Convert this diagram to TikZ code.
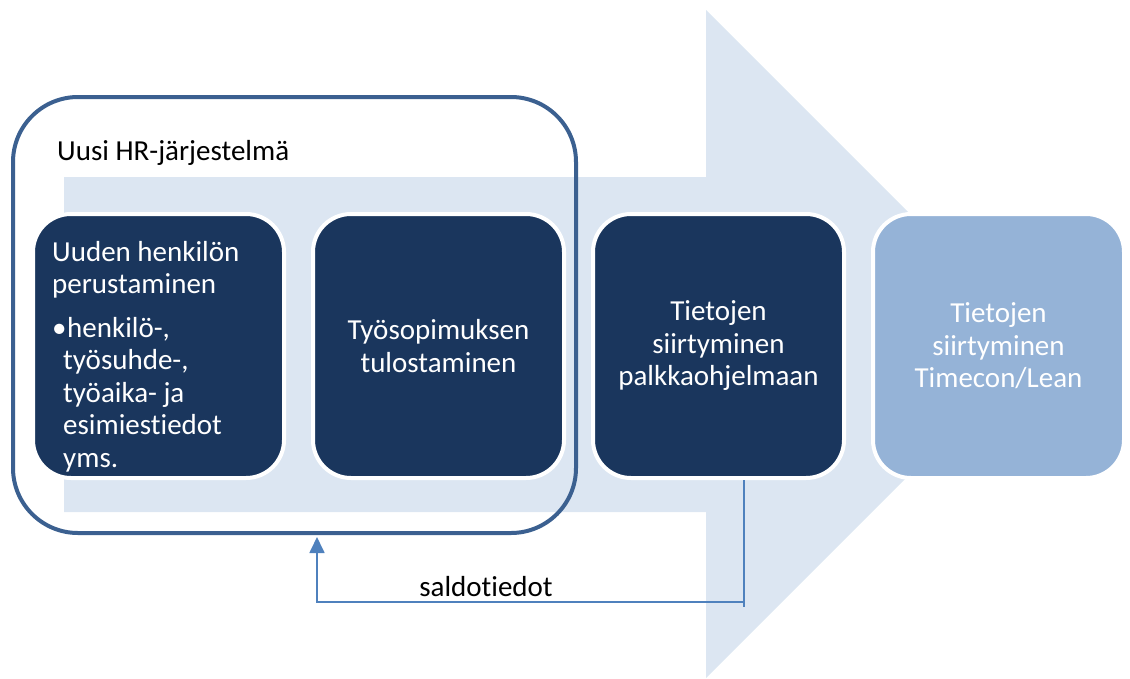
\documentclass[tikz,border=0pt]{standalone}
\usepackage{fontspec}
\setmainfont{Carlito}[Ligatures=NoCommon]
\usetikzlibrary{arrows.meta}
\definecolor{arrowbg}{HTML}{DCE6F2}
\definecolor{navy}{HTML}{1A365D}
\definecolor{lightbox}{HTML}{95B3D7}
\definecolor{hrblue}{HTML}{3B6090}
\definecolor{connblue}{HTML}{4F81BD}
\newcommand{\bodyfont}{\fontsize{29pt}{32.5pt}\selectfont}
\newcommand{\indentbox}{\makebox[11pt]{}}
\tikzset{
  stepbox/.style={draw=white, line width=4pt, rounded corners=38pt,
    minimum width=251pt, minimum height=264pt, inner sep=0pt,
    text=white, align=center, font=\bodyfont},
  hrframe/.style={draw=hrblue, line width=4pt, rounded corners=65pt,
    minimum width=563pt, minimum height=436pt, inner sep=0pt},
  conn/.style={draw=connblue, line width=1.8pt},
  plain/.style={inner sep=0pt, font=\bodyfont}
}
\begin{document}
\begin{tikzpicture}[x=1pt,y=-1pt]
\useasboundingbox (0,0) rectangle (1130,678);
% big background arrow
\fill[arrowbg] (64,177) -- (706,177) -- (706,10) -- (1040,344) -- (706,678) -- (706,512) -- (64,512) -- cycle;
% HR system frame
\node[hrframe] (hr) at (294.5,315) {};
\node[plain, anchor=base west] (title) at (57,160) {Uusi HR-järjestelmä};
% boxes
\node[stepbox, fill=navy] (b1) at (158.5,346) {};
\node[plain, anchor=north west, align=left, text=white] (t1) at (52,241)
  {Uuden henkilön\\perustaminen\\[11pt]\makebox[15pt][l]{\textbullet}henkilö-,\\\indentbox työsuhde-,\\\indentbox työaika- ja\\\indentbox esimiestiedot\\\indentbox yms.};
\node[stepbox, fill=navy] (b2) at (438.5,346) {Työsopimuksen\\tulostaminen};
\node[stepbox, fill=navy] (b3) at (718.5,346) {Tietojen\\siirtyminen\\palkkaohjelmaan};
\node[stepbox, fill=lightbox] (b4) at (998.5,346) {Tietojen\\siirtyminen\\Timecon/Lean};
% feedback connector
\coordinate (stub) at (744,607);
\coordinate (c1) at (744,602);
\coordinate (c2) at (317,602);
\coordinate (c3) at (317,537);
\draw[conn] (b3.south -| stub) -- (stub);
\draw[conn, -{Triangle[width=15pt,length=16pt]}] (c1) -- (c2) -- (c3);
\node[plain, anchor=base] (lbl) at (486,596) {saldotiedot};
\end{tikzpicture}
\end{document}
